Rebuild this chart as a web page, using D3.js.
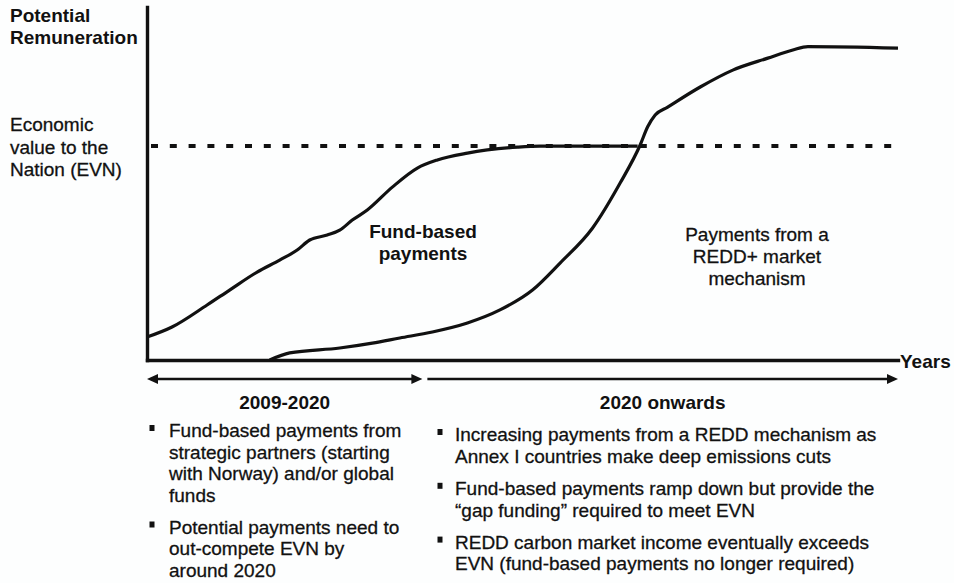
<!DOCTYPE html>
<html>
<head>
<meta charset="utf-8">
<script src="https://cdn.jsdelivr.net/npm/d3@7"></script>
<style>
  html, body { margin: 0; padding: 0; background: #fdfefe; }
  svg { display: block; font-family: "Liberation Sans", Arial, Helvetica, sans-serif; }
  text { fill: #111; }
  text.reg { stroke: #111; stroke-width: 0.3; }
</style>
</head>
<body>
<svg id="chart" width="954" height="583"></svg>
<script>
// ---- Data (years vs. potential remuneration, EVN = 100) ----
const fundYears   = [2009, 2010, 2011.4, 2012.3, 2013.4, 2014.3, 2015.0, 2015.5, 2016.2, 2016.7, 2017.2, 2017.8, 2018.8, 2019.8, 2020.6, 2021.8, 2023.8, 2024.7, 2028.6];
const fundValues  = [10.7, 15.4, 25.7, 32.7, 41.1, 46.7, 51.4, 56.1, 58.4, 60.7, 65.4, 70.1, 80.8, 89.7, 93.5, 96.7, 99.5, 100, 100];
const marketYears  = [2013.9, 2014.7, 2016.7, 2018.0, 2019.1, 2020.4, 2021.8, 2023.1, 2024.4, 2025.5, 2026.8, 2027.9, 2028.7, 2029.0, 2029.3, 2029.8, 2031.1, 2032.4, 2033.8, 2034.8, 2035.4, 2039];
const marketValues = [0, 3.3, 5.6, 7.9, 10.3, 13.1, 17.3, 23.4, 32.7, 45.3, 61.7, 82.7, 100.5, 109, 114.5, 118.2, 127.6, 135.5, 141.1, 144.9, 146.5, 145.8];
const evnValue = 100;
const yearDomain = [2009, 2039];
const valueDomain = [0, 165];
const periods = [
  { label: "2009-2020", start: 2009, end: 2020, startHead: true },
  { label: "2020 onwards", start: 2020.2, end: 2039, startHead: false }
];
const yTitle = ["Potential", "Remuneration"];
const evnLabel = ["Economic", "value to the", "Nation (EVN)"];
const fundLabel = ["Fund-based", "payments"];
const marketLabel = ["Payments from a", "REDD+ market", "mechanism"];
const xTitle = "Years";
const leftBullets = [
  ["Fund-based payments from", "strategic partners (starting", "with Norway) and/or global", "funds"],
  ["Potential payments need to", "out-compete EVN by", "around 2020"]
];
const rightBullets = [
  ["Increasing payments from a REDD mechanism as", "Annex I countries make deep emissions cuts"],
  ["Fund-based payments ramp down but provide the", "\u201Cgap funding\u201D required to meet EVN"],
  ["REDD carbon market income eventually exceeds", "EVN (fund-based payments no longer required)"]
];

// ---- Layout ----
const svg = d3.select("#chart");
const x = d3.scaleLinear().domain(yearDomain).range([147, 898]);
const y = d3.scaleLinear().domain(valueDomain).range([360, 7]);
const FS = 19;

// axes
const yAxis = svg.append("g").attr("transform", `translate(${x(yearDomain[0])},0)`)
  .call(d3.axisLeft(y).tickValues([]).tickSizeOuter(0));
const xAxis = svg.append("g").attr("transform", `translate(0,${y(0)})`)
  .call(d3.axisBottom(x).tickValues([]).tickSizeOuter(0));
[yAxis, xAxis].forEach(g => g.select(".domain").attr("stroke", "#111").attr("stroke-width", 3.4).attr("stroke-linecap", "square"));

// EVN dashed line
svg.append("line")
  .attr("x1", x(yearDomain[0]) + 4).attr("x2", x(yearDomain[1]))
  .attr("y1", y(evnValue)).attr("y2", y(evnValue))
  .attr("stroke", "#111").attr("stroke-width", 4)
  .attr("stroke-dasharray", "7,11.8");

const line = d3.line().x(d => x(d[0])).y(d => y(d[1])).curve(d3.curveMonotoneX);
svg.append("path").datum(fundYears.map((v, i) => [v, fundValues[i]]))
  .attr("d", line).attr("fill", "none").attr("stroke", "#111").attr("stroke-width", 3.2)
  .attr("stroke-linejoin", "round");
svg.append("path").datum(marketYears.map((v, i) => [v, marketValues[i]]))
  .attr("d", line).attr("fill", "none").attr("stroke", "#111").attr("stroke-width", 3.2)
  .attr("stroke-linejoin", "round");

// texts
function lines(arr, xp, y0, dy, opts) {
  const t = svg.append("text").attr("x", xp).attr("y", y0)
    .attr("class", opts.bold ? "bold" : "reg")
    .attr("font-size", opts.size || FS)
    .attr("font-weight", opts.bold ? "bold" : "normal")
    .attr("text-anchor", opts.anchor || "start");
  arr.forEach((s, i) => t.append("tspan").attr("x", xp).attr("y", y0 + i * dy).text(s));
  return t;
}
lines(yTitle, 10, 22, 22, { bold: true });
lines(evnLabel, 10, 131, 22.5, {});
lines(fundLabel, 423, 238, 22, { bold: true, anchor: "middle" });
lines(marketLabel, 757, 241, 22, { anchor: "middle" });
svg.append("text").attr("x", 900).attr("y", 368).attr("font-size", FS).attr("font-weight", "bold").text(xTitle);

// period arrows
const ay = 379;
function head(xp, dir) {
  svg.append("path")
    .attr("d", `M${xp},${ay} L${xp - dir * 11},${ay - 5} L${xp - dir * 11},${ay + 5} Z`)
    .attr("fill", "#111");
}
periods.forEach(p => {
  const x1 = x(p.start), x2 = x(p.end);
  svg.append("line").attr("x1", x1 + (p.startHead ? 6 : 0)).attr("x2", x2 - 6)
    .attr("y1", ay).attr("y2", ay).attr("stroke", "#111").attr("stroke-width", 2.6);
  head(x2, 1);
  if (p.startHead) head(x1, -1);
  svg.append("text").attr("x", (x(p.start) + x(p.end)) / 2)
    .attr("y", 409).attr("font-size", FS).attr("font-weight", "bold")
    .attr("text-anchor", "middle").text(p.label);
});

// bullets
function bulletBlock(items, bx, tx, y0, dy, gap) {
  let yy = y0;
  items.forEach(item => {
    svg.append("rect").attr("x", bx - 2.5).attr("y", yy - 12).attr("width", 5).attr("height", 6).attr("fill", "#111");
    lines(item, tx, yy, dy, {});
    yy += (item.length - 1) * dy + gap;
  });
}
bulletBlock(leftBullets, 152, 169, 437, 21.5, 32);
bulletBlock(rightBullets, 440, 455, 441, 21.8, 32);
</script>
</body>
</html>
